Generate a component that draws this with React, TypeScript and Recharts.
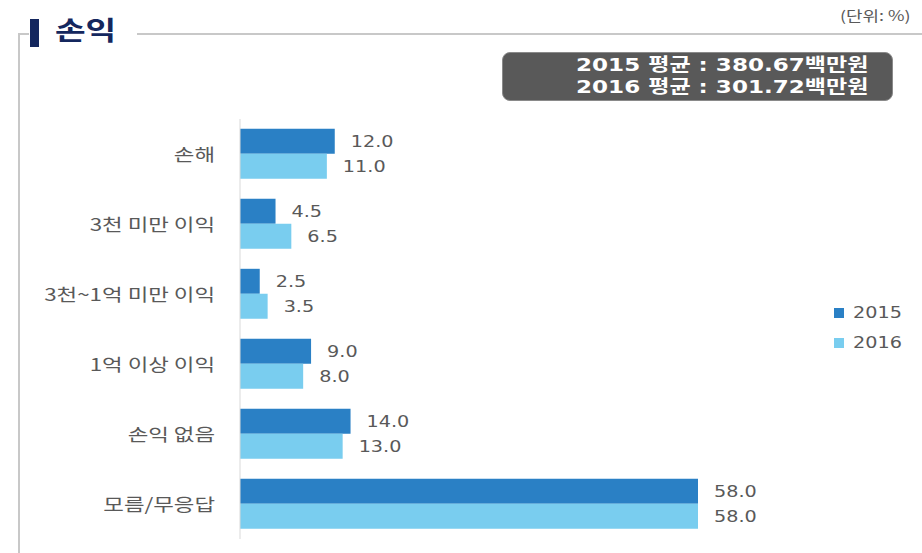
import React from "react";
import { BarChart, Bar, XAxis, YAxis, LabelList } from "recharts";

const categories = ["손해", "3천 미만 이익", "3천~1억 미만 이익", "1억 이상 이익", "손익 없음", "모름/무응답"];
const values2015 = [12.0, 4.5, 2.5, 9.0, 14.0, 58.0];
const values2016 = [11.0, 6.5, 3.5, 8.0, 13.0, 58.0];
const seriesNames = ["2015", "2016"];
const avgLines = ["2015 평균 : 380.67백만원", "2016 평균 : 301.72백만원"];

const colors = ["#2a80c5", "#79cdef"];
const data = categories.map((c, i) => ({ name: c, v2015: values2015[i], v2016: values2016[i] }));
const font = "'DejaVu Sans', 'Noto Sans CJK KR', sans-serif";
const kfont = "'Noto Sans CJK KR', sans-serif";
const SX = 1.28;

const CatTick = (props: any) => {
  const { x, y, payload } = props;
  return (
    <text transform={`translate(${x},${y}) scale(${SX},1)`} x={0} y={0} textAnchor="end" dominantBaseline="central" fill="#595959" fontSize={17.5} fontWeight={400} fontFamily={kfont}>
      {payload.value}
    </text>
  );
};

const ValLabel = (props: any) => {
  const { x, y, width, height, value } = props;
  const lx = Number(x) + Number(width) + 16;
  const ly = Number(y) + Number(height) / 2;
  return (
    <text transform={`translate(${lx},${ly}) scale(${SX},1)`} x={0} y={0} textAnchor="start" dominantBaseline="central" fill="#595959" fontSize={15} fontFamily={font}>
      {Number(value).toFixed(1)}
    </text>
  );
};

const stretch = (origin: string): React.CSSProperties => ({ display: "inline-block", transform: `scaleX(${SX})`, transformOrigin: origin, whiteSpace: "nowrap" });

export default function App() {
  return (
    <div style={{ position: "absolute", left: 0, top: 0, width: 922, height: 553, background: "#fff", overflow: "hidden" }}>
      {/* frame */}
      <div style={{ position: "absolute", left: 18, top: 33, width: 2, height: 530, background: "#c8c8c8" }} />
      <div style={{ position: "absolute", left: 18, top: 33, width: 11, height: 2, background: "#c8c8c8" }} />
      <div style={{ position: "absolute", left: 137, top: 33, width: 800, height: 2, background: "#c8c8c8" }} />
      <div style={{ position: "absolute", left: 30, top: 19, width: 9, height: 28, background: "#14275e" }} />
      <div style={{ position: "absolute", left: 55, top: 11, fontFamily: kfont, fontWeight: 700, fontSize: 26, color: "#14275e", lineHeight: "36px" }}>
        <span style={stretch("left center")}>손익</span>
      </div>
      <div style={{ position: "absolute", left: 840, top: 5, fontFamily: kfont, fontSize: 14, color: "#595959" }}>
        <span style={stretch("left center")}>(단위: %)</span>
      </div>
      <div style={{ position: "absolute", left: 502, top: 52, width: 391, height: 49, background: "#595959", border: "1px solid #8a8a8a", borderRadius: 8, boxSizing: "border-box", paddingRight: 24, textAlign: "right", fontFamily: font, fontWeight: 700, fontSize: 18, color: "#fff", lineHeight: "22px", paddingTop: 1 }}>
        {avgLines.map((l) => (<div key={l}><span style={stretch("right center")}>{l}</span></div>))}
      </div>
      {/* legend */}
      <div style={{ position: "absolute", left: 834, top: 298, fontFamily: font, fontSize: 15, color: "#595959" }}>
        {seriesNames.map((n, i) => (
          <div key={n} style={{ display: "flex", alignItems: "center", height: 30 }}>
            <span style={{ width: 10, height: 10, background: colors[i], display: "inline-block", marginRight: 9 }} />
            <span style={stretch("left center")}>{n}</span>
          </div>
        ))}
      </div>
      <div style={{ position: "absolute", left: 0, top: 0 }}>
        <BarChart width={922} height={553} data={data} layout="vertical" margin={{ top: 119, right: 102, bottom: 14, left: 0 }} barCategoryGap="14%" barGap={0}>
          <XAxis type="number" domain={[0, 73.45]} hide />
          <YAxis type="category" dataKey="name" width={240} tickSize={0} tickMargin={25} axisLine={{ stroke: "#d9d9d9" }} tickLine={false} tick={<CatTick />} />
          <Bar dataKey="v2015" name={seriesNames[0]} fill={colors[0]} isAnimationActive={false}>
            <LabelList dataKey="v2015" content={<ValLabel />} />
          </Bar>
          <Bar dataKey="v2016" name={seriesNames[1]} fill={colors[1]} isAnimationActive={false}>
            <LabelList dataKey="v2016" content={<ValLabel />} />
          </Bar>
        </BarChart>
      </div>
    </div>
  );
}
